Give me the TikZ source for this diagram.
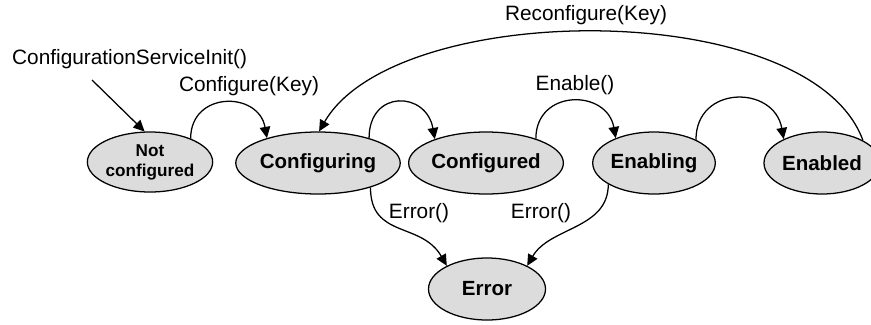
\documentclass[tikz,border=0pt]{standalone}
\usepackage{fontspec}
\setmainfont{Liberation Sans}
\usetikzlibrary{arrows.meta,positioning,shapes.geometric}
\definecolor{stategray}{RGB}{220,220,220}

\begin{document}
\begin{tikzpicture}[
  state/.style={ellipse, draw=black, line width=0.9pt, fill=stategray, inner sep=0pt,
                minimum width=2.9cm, minimum height=1.55cm, align=center,
                font=\fontsize{14.6}{17}\selectfont\bfseries},
  arrow/.style={-{Triangle[length=8pt, width=7.5pt]}, line width=0.9pt, black},
  tlabel/.style={font=\fontsize{14.8}{17}\selectfont, inner sep=0pt}
]
\useasboundingbox (0,0) rectangle (21.775,8.1);

% States
\node[state, minimum width=2.875cm, minimum height=1.5cm,
      font=\fontsize{12.2}{14.2}\selectfont\bfseries] (notcfg) at (3.75,4.05) {Not\\configured};
\node[state, minimum width=3.4cm] (cfging)   at (7.95,4.025)  {Configuring};
\node[state, minimum width=3.4cm] (cfgd)     at (12.15,4.025) {Configured};
\node[state] (enabling) at (16.35,4.025) {Enabling};
\node[state] (enabled)  at (20.55,4.025) {Enabled};
\node[state, minimum width=2.925cm] (error) at (12.175,0.875) {Error};

% Transition labels
\node[tlabel] (initlbl)  at (3.24,6.625)  {ConfigurationServiceInit()};
\node[tlabel] (cfglbl)   at (6.225,5.95)  {Configure(Key)};
\node[tlabel] (recfglbl) at (14.65,7.725) {Reconfigure(Key)};
\node[tlabel] (enlbl)    at (14.375,5.975) {Enable()};
\node[tlabel] (errlbla)  at (10.475,2.775) {Error()};
\node[tlabel] (errlblb)  at (13.525,2.775) {Error()};

% Entry
\coordinate (initstart) at (2.3,6.1);
\draw[arrow] (initstart) -- (notcfg.100);

% Forward transitions
\draw[arrow] (notcfg.30) to[out=90, in=100, looseness=1.6] (cfging.154);
\draw[arrow] (cfging.26) to[out=90, in=100, looseness=1.9] (cfgd.155);
\draw[arrow] (cfgd.26) to[out=90, in=100, looseness=1.6] (enabling.147);
\draw[arrow] (enabling.29) to[out=90, in=100, looseness=1.6] (enabled.148);

% Back edge
\draw[arrow] (enabled.29) to[out=110, in=60, looseness=0.72] (cfging.88);

% Failures
\draw[arrow] (cfging.-25) to[out=-90, in=120, looseness=1.2] (error.150);
\draw[arrow] (enabling.205) to[out=-90, in=60] (error.30);
\end{tikzpicture}
\end{document}
